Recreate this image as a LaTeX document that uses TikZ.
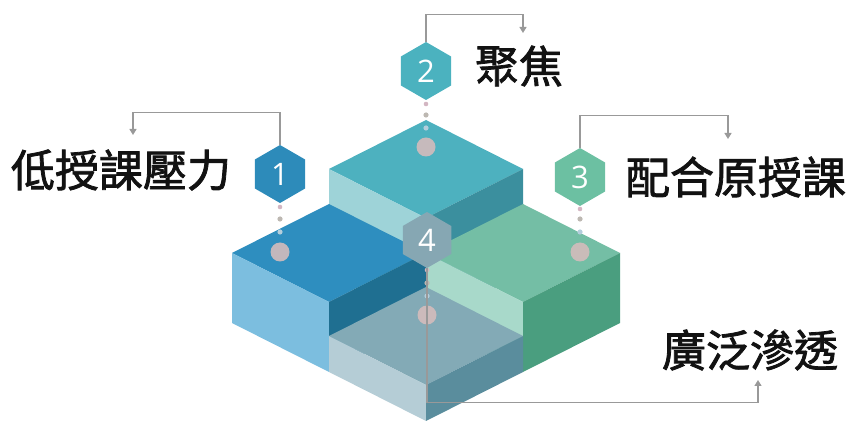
\documentclass[tikz,border=0pt]{standalone}
\usepackage{fontspec}
\newfontfamily\cjk[FakeBold=1.8]{Noto Sans CJK TC}
\newfontfamily\numfont{Open Sans}
\usetikzlibrary{shapes.geometric,arrows.meta}

% block faces: top / left (light) / right (dark)
\definecolor{bAtop}{HTML}{2E8EBF}\definecolor{bAleft}{HTML}{7CBEDF}\definecolor{bAright}{HTML}{1F6F91}
\definecolor{bBtop}{HTML}{4DB1BF}\definecolor{bBleft}{HTML}{9ED3D8}\definecolor{bBright}{HTML}{3B8F9E}
\definecolor{bCtop}{HTML}{74BEA5}\definecolor{bCleft}{HTML}{A8D9CA}\definecolor{bCright}{HTML}{4A9E7F}
\definecolor{bDtop}{HTML}{83AAB6}\definecolor{bDleft}{HTML}{B5CDD6}\definecolor{bDright}{HTML}{5A8D9D}
% badges
\definecolor{hexA}{HTML}{2D8BBA}\definecolor{hexB}{HTML}{4BB2BF}
\definecolor{hexC}{HTML}{6CC0A2}\definecolor{hexD}{HTML}{86A7B3}
\definecolor{connGray}{HTML}{999999}
\definecolor{dotPink}{HTML}{D3B6C2}\definecolor{dotGray}{HTML}{BDB8B2}
\definecolor{dotBlue}{HTML}{B4CEDC}\definecolor{dotBig}{HTML}{D4BCBC}

\begin{document}
\begin{tikzpicture}[x=1pt,y=1pt,
  hexa/.style={regular polygon, regular polygon sides=6, shape border rotate=30,
    minimum size=58pt, inner sep=0pt, text=white,
    font=\numfont\fontsize{31}{31}\selectfont},
  lbl/.style={text=black!93, inner sep=0pt, font=\cjk\fontsize{44}{44}\selectfont},
  conn/.style={draw=connGray, line width=1.3pt},
  arrowconn/.style={conn, -{Triangle[width=7pt,length=6pt]}},
]
\useasboundingbox (0,0) rectangle (849,423);

% isometric blocks (a, b along the base diagonals, z height in pt)
\begin{scope}[shift={(426pt,100pt)}, x={(97pt,-49pt)}, y={(-97pt,-49pt)}, z={(0pt,1pt)}]
  % back block
  \fill[bBtop]   (-1,-1,105) -- (0,-1,105) -- (0,0,105) -- (-1,0,105) -- cycle;
  \fill[bBleft]  (-1,0,105) -- (0,0,105) -- (0,0,0) -- (-1,0,0) -- cycle;
  \fill[bBright] (0,-1,105) -- (0,0,105) -- (0,0,0) -- (0,-1,0) -- cycle;
  % left block
  \fill[bAtop]   (-1,0,70) -- (0,0,70) -- (0,1,70) -- (-1,1,70) -- cycle;
  \fill[bAleft]  (-1,1,70) -- (0,1,70) -- (0,1,0) -- (-1,1,0) -- cycle;
  \fill[bAright] (0,0,70) -- (0,1,70) -- (0,1,0) -- (0,0,0) -- cycle;
  % right block
  \fill[bCtop]   (0,-1,70) -- (1,-1,70) -- (1,0,70) -- (0,0,70) -- cycle;
  \fill[bCleft]  (0,0,70) -- (1,0,70) -- (1,0,0) -- (0,0,0) -- cycle;
  \fill[bCright] (1,-1,70) -- (1,0,70) -- (1,0,0) -- (1,-1,0) -- cycle;
  % front block
  \fill[bDtop]   (0,0,36) -- (1,0,36) -- (1,1,36) -- (0,1,36) -- cycle;
  \fill[bDleft]  (0,1,36) -- (1,1,36) -- (1,1,0) -- (0,1,0) -- cycle;
  \fill[bDright] (1,0,36) -- (1,1,36) -- (1,1,0) -- (1,0,0) -- cycle;
\end{scope}

% dotted stems below each badge
\foreach \px/\ya/\yb/\yc/\yd in {280/216/204/191/171, 426/319/308/295/276, 580/214/204/191/171, 427/153/140/127/108}{
  \fill[dotPink] (\px,\ya) circle (2.3);
  \fill[dotGray] (\px,\yb) circle (2.6);
  \fill[dotBlue] (\px,\yc) circle (2.6);
  \fill[dotBig, opacity=0.9] (\px,\yd) circle (9.5);
}

% badges
\node[hexa, fill=hexA] (h1) at (280,249) {1};
\node[hexa, fill=hexB] (h2) at (426,352) {2};
\node[hexa, fill=hexC] (h3) at (580,246) {3};
\node[hexa, fill=hexD, minimum size=56pt] (h4) at (427,183) {4};

% labels
\node[lbl] (l1) at (121,253) {低授課壓力};
\node[lbl] (l2) at (519,357) {聚焦};
\node[lbl] (l3) at (736,246) {配合原授課};
\node[lbl] (l4) at (750,73) {廣泛滲透};

% connector end points
\coordinate (t1) at (133,288);
\coordinate (t2) at (523,390);
\coordinate (t3) at (728,284);
\coordinate (t4) at (758,43);

\draw[arrowconn] (h1.north) -- ++(0,32) -| (t1);
\draw[arrowconn] (h2.north) -- ++(0,27) -| (t2);
\draw[arrowconn] (h3.north) -- ++(0,32) -| (t3);
\draw[arrowconn] (h4.south) -- ++(0,-134) -| (t4);
\end{tikzpicture}
\end{document}
